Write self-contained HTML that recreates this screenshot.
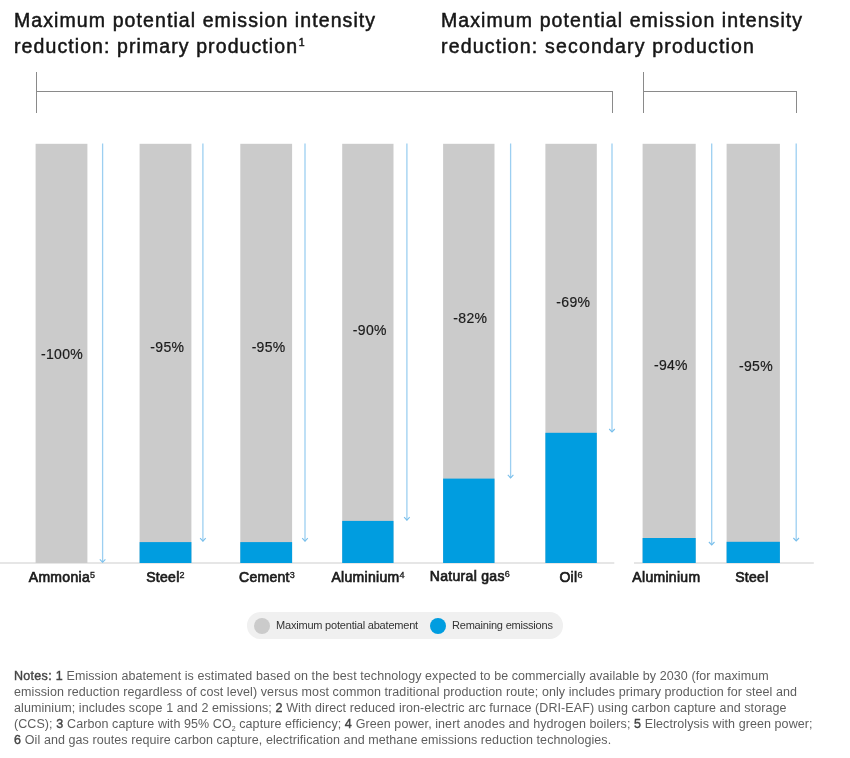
<!DOCTYPE html>
<html><head><meta charset="utf-8">
<style>
html,body{margin:0;padding:0;background:#fff;}
body{width:850px;height:758px;position:relative;overflow:hidden;font-family:"Liberation Sans",sans-serif;color:#1a1a1a;}
.abs{position:absolute;}
.title{position:absolute;top:7.3px;font-size:19.5px;line-height:26px;color:#161616;white-space:nowrap;letter-spacing:1.09px;-webkit-text-stroke:0.5px #161616;}
.title sup{font-size:10.5px;letter-spacing:0;margin-left:0.5px;line-height:0;vertical-align:baseline;position:relative;top:-7px;}
.ln{position:absolute;background:#8a8a8a;}
.bar{position:absolute;background:#cbcbcb;top:144px;height:419px;}
.rem{position:absolute;background:#009de0;}
.al{position:absolute;width:1.5px;background:#aed6f4;top:144px;}
.base{position:absolute;height:2px;background:#e4e4e4;top:562px;}
.pct{position:absolute;font-size:14px;line-height:14px;white-space:nowrap;color:#1c1c1c;transform:translateX(-50%);letter-spacing:0.3px;margin-left:0.3px;-webkit-text-stroke:0.2px #1c1c1c;}
.lab{position:absolute;font-size:14px;line-height:14px;white-space:nowrap;color:#1c1c1c;transform:translateX(-50%);-webkit-text-stroke:0.7px #1c1c1c;letter-spacing:0.3px;}
.lab sup{font-size:9px;line-height:0;vertical-align:baseline;position:relative;top:-4.5px;-webkit-text-stroke:0.35px #1c1c1c;letter-spacing:0;margin-left:0px;}
.legend{position:absolute;left:247.4px;top:612.4px;width:315.6px;height:26.5px;border-radius:13.25px;background:#f0f0f0;}
.dot{position:absolute;width:16px;height:16px;border-radius:50%;top:618px;}
.lt{position:absolute;font-size:11px;letter-spacing:-0.2px;line-height:12px;top:619.3px;color:#333;white-space:nowrap;}
.notes{position:absolute;left:14px;top:669px;font-size:12.5px;letter-spacing:0.08px;line-height:15.9px;color:#5e5e5e;white-space:nowrap;}
.notes b{color:#444;font-weight:normal;-webkit-text-stroke:0.4px #444;letter-spacing:0.3px;}
.notes sub{font-size:7px;line-height:0;vertical-align:baseline;position:relative;top:3px;}
</style></head><body>

<div class="title" style="left:14px;">Maximum potential emission intensity<br>reduction: primary production<sup>1</sup></div>
<div class="title" style="left:441px;">Maximum potential emission intensity<br><span style="letter-spacing:1.18px;">reduction: secondary production</span></div>

<!-- brackets -->
<div class="ln" style="left:36px;top:72px;width:1px;height:41px;"></div>
<div class="ln" style="left:36px;top:91px;width:577px;height:1px;"></div>
<div class="ln" style="left:612px;top:91px;width:1px;height:22px;"></div>
<div class="ln" style="left:643px;top:72px;width:1px;height:41px;"></div>
<div class="ln" style="left:643px;top:91px;width:154px;height:1px;"></div>
<div class="ln" style="left:796px;top:91px;width:1px;height:22px;"></div>

<!-- chart -->
<svg class="abs" style="left:0;top:0;" width="850" height="758" viewBox="0 0 850 758" fill="none">
<rect x="0" y="562.1" width="614.3" height="1.8" fill="#e4e4e4"/>
<rect x="634" y="562.1" width="179.8" height="1.8" fill="#e4e4e4"/>
<rect x="35.6" y="143.8" width="51.8" height="419.2" fill="#cbcbcb"/>
<rect x="139.6" y="143.8" width="51.8" height="419.2" fill="#cbcbcb"/>
<rect x="139.6" y="542.1" width="51.8" height="20.9" fill="#009de0"/>
<rect x="240.3" y="143.8" width="51.8" height="419.2" fill="#cbcbcb"/>
<rect x="240.3" y="542.1" width="51.8" height="20.9" fill="#009de0"/>
<rect x="342.2" y="143.8" width="51.3" height="419.2" fill="#cbcbcb"/>
<rect x="342.2" y="520.9" width="51.3" height="42.1" fill="#009de0"/>
<rect x="443.1" y="143.8" width="51.4" height="419.2" fill="#cbcbcb"/>
<rect x="443.1" y="478.6" width="51.4" height="84.4" fill="#009de0"/>
<rect x="545.4" y="143.8" width="51.4" height="419.2" fill="#cbcbcb"/>
<rect x="545.4" y="432.8" width="51.4" height="130.2" fill="#009de0"/>
<rect x="642.6" y="143.8" width="53.1" height="419.2" fill="#cbcbcb"/>
<rect x="642.6" y="538.0" width="53.1" height="25.0" fill="#009de0"/>
<rect x="726.6" y="143.8" width="53.3" height="419.2" fill="#cbcbcb"/>
<rect x="726.6" y="541.8" width="53.3" height="21.2" fill="#009de0"/>
<g stroke="#9ccff1" stroke-width="1.3">
<path d="M102.6 143.6V562.3"/><path d="M202.9 143.6V541.2"/><path d="M305.0 143.6V541.2"/><path d="M406.9 143.6V520.2"/><path d="M510.6 143.6V477.9"/><path d="M612.0 143.6V432.0"/><path d="M711.7 143.6V545.0"/><path d="M796.2 143.6V541.0"/>
</g>
<g stroke="#79bfeb" stroke-width="1.1">
<path d="M99.8 559.3L102.6 562.3L105.4 559.3"/><path d="M200.1 538.2L202.9 541.2L205.7 538.2"/><path d="M302.2 538.2L305.0 541.2L307.8 538.2"/><path d="M404.1 517.2L406.9 520.2L409.7 517.2"/><path d="M507.8 474.9L510.6 477.9L513.4 474.9"/><path d="M609.2 429.0L612.0 432.0L614.8 429.0"/><path d="M708.9 542.0L711.7 545.0L714.5 542.0"/><path d="M793.4 538.0L796.2 541.0L799.0 538.0"/>
</g>
</svg>

<!-- pct labels -->
<div class="pct" style="left:61.7px;top:346.8px;">-100%</div>
<div class="pct" style="left:167px;top:339.8px;">-95%</div>
<div class="pct" style="left:268.3px;top:339.8px;">-95%</div>
<div class="pct" style="left:369.5px;top:322.8px;">-90%</div>
<div class="pct" style="left:470px;top:310.8px;">-82%</div>
<div class="pct" style="left:573px;top:294.8px;">-69%</div>
<div class="pct" style="left:670.6px;top:357.8px;">-94%</div>
<div class="pct" style="left:755.7px;top:358.8px;">-95%</div>

<!-- category labels -->
<div class="lab" style="left:61.9px;top:570.2px;">Ammonia<sup>5</sup></div>
<div class="lab" style="left:165.4px;top:570.2px;">Steel<sup>2</sup></div>
<div class="lab" style="left:266.9px;top:570.2px;">Cement<sup>3</sup></div>
<div class="lab" style="left:368.0px;top:570.2px;">Aluminium<sup>4</sup></div>
<div class="lab" style="left:469.8px;top:569.2px;">Natural gas<sup>6</sup></div>
<div class="lab" style="left:570.9px;top:570.2px;">Oil<sup>6</sup></div>
<div class="lab" style="left:666.4px;top:570.2px;">Aluminium</div>
<div class="lab" style="left:751.9px;top:570.2px;">Steel</div>

<!-- legend -->
<div class="legend"></div>
<div class="dot" style="left:254px;background:#cbcbcb;"></div>
<div class="lt" style="left:276px;">Maximum potential abatement</div>
<div class="dot" style="left:430px;background:#009de0;"></div>
<div class="lt" style="left:452px;">Remaining emissions</div>

<div class="notes"><b>Notes: 1</b> Emission abatement is estimated based on the best technology expected to be commercially available by 2030 (for maximum<br>emission reduction regardless of cost level) versus most common traditional production route; only includes primary production for steel and<br>aluminium; includes scope 1 and 2 emissions; <b>2</b> With direct reduced iron-electric arc furnace (DRI-EAF) using carbon capture and storage<br>(CCS); <b>3</b> Carbon capture with 95% CO<sub>2</sub> capture efficiency; <b>4</b> Green power, inert anodes and hydrogen boilers; <b>5</b> Electrolysis with green power;<br><b>6</b> Oil and gas routes require carbon capture, electrification and methane emissions reduction technologies.</div>

</body></html>
